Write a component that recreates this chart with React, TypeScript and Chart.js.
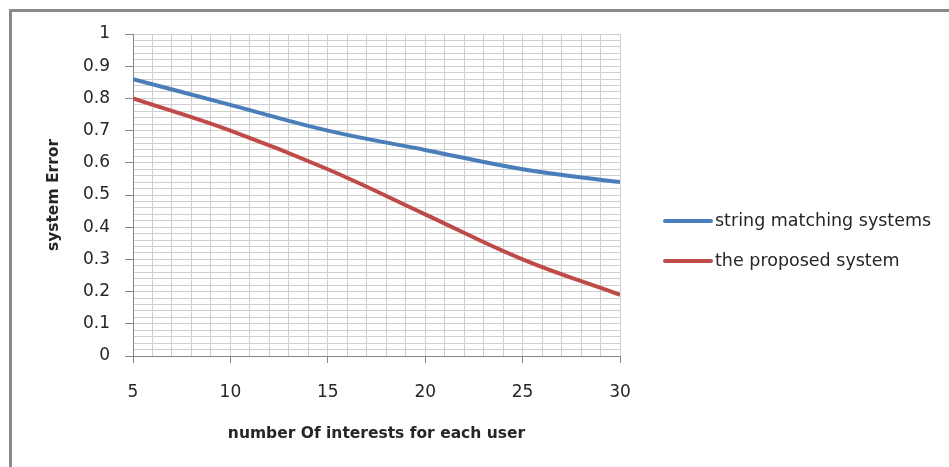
import { useEffect, useRef } from "react";
import { Chart, registerables } from "chart.js";

Chart.register(...registerables);

// Number of interests per user (x positions of the samples)
const interests = [5, 10, 15, 20, 25, 30];
// System error of each approach at those sample points
const stringMatching = [0.86, 0.78, 0.7, 0.64, 0.58, 0.54];
const proposedSystem = [0.8, 0.7, 0.58, 0.44, 0.3, 0.19];

const seriesNames = ["string matching systems", "the proposed system"];
const seriesColors = ["#4A7EBB", "#BE4B48"];

const xAxisTitle = "number Of interests for each user";
const yAxisTitle = "system Error";

const FONT = "'DejaVu Sans', sans-serif";
const TEXT_COLOR = "#262626";
const AXIS_COLOR = "#868686";
const GRID_COLOR = "#cfcfcf";

// Legend drawn to the right of the plot, line sample followed by the label
const sideLegend = {
  id: "sideLegend",
  afterDraw(chart: any) {
    const { ctx, chartArea } = chart;
    const x0 = chartArea.right + 45;
    const lineLen = 46;
    const yStart = chartArea.top + 187;
    const gap = 40;
    ctx.save();
    ctx.font = `17.5px ${FONT}`;
    ctx.textBaseline = "middle";
    ctx.textAlign = "left";
    chart.data.datasets.forEach((ds: any, i: number) => {
      const y = yStart + i * gap;
      ctx.strokeStyle = ds.borderColor;
      ctx.lineWidth = ds.borderWidth;
      ctx.lineCap = "round";
      ctx.beginPath();
      ctx.moveTo(x0, y);
      ctx.lineTo(x0 + lineLen, y);
      ctx.stroke();
      ctx.fillStyle = TEXT_COLOR;
      ctx.fillText(ds.label, x0 + lineLen + 4, y);
    });
    ctx.restore();
  },
};

export default function App() {
  const canvasRef = useRef<HTMLCanvasElement | null>(null);

  useEffect(() => {
    const canvas = canvasRef.current;
    if (!canvas) return;

    const series = [stringMatching, proposedSystem];
    const chart = new Chart(canvas, {
      type: "line",
      data: {
        datasets: series.map((values, i) => ({
          label: seriesNames[i],
          data: interests.map((x, j) => ({ x, y: values[j] })),
          borderColor: seriesColors[i],
          backgroundColor: seriesColors[i],
          borderWidth: 4,
          pointRadius: 0,
          tension: 0.4,
          fill: false,
        })),
      },
      options: {
        responsive: false,
        animation: false,
        layout: { padding: { top: 34, right: 329, left: 0, bottom: 0 } },
        plugins: {
          legend: { display: false },
          tooltip: { enabled: false },
        },
        scales: {
          x: {
            type: "linear",
            min: 5,
            max: 30,
            afterFit: (scale: any) => {
              scale.height = 111;
            },
            ticks: {
              stepSize: 1,
              autoSkip: false,
              maxRotation: 0,
              padding: 19,
              color: TEXT_COLOR,
              font: { family: FONT, size: 17 },
              callback: (v: any) => (Number(v) % 5 === 0 ? String(v) : ""),
            },
            grid: {
              color: GRID_COLOR,
              tickLength: 7,
              tickColor: (ctx: any) =>
                ctx.tick && ctx.tick.value % 5 === 0 ? AXIS_COLOR : "rgba(0,0,0,0)",
            },
            border: { color: AXIS_COLOR, width: 1 },
            title: {
              display: true,
              text: xAxisTitle,
              color: TEXT_COLOR,
              font: { family: FONT, size: 15.5, weight: "bold" },
              padding: { top: 0, bottom: 24 },
            },
          },
          y: {
            type: "linear",
            min: 0,
            max: 1,
            afterFit: (scale: any) => {
              scale.width = 133;
            },
            ticks: {
              stepSize: 0.02,
              autoSkip: false,
              padding: 15,
              color: TEXT_COLOR,
              font: { family: FONT, size: 17 },
              callback: (v: any) => {
                const n = Math.round(Number(v) * 50);
                return n % 5 === 0 ? String(n / 50) : "";
              },
            },
            grid: {
              color: GRID_COLOR,
              tickLength: 8,
              tickColor: (ctx: any) => {
                const n = ctx.tick ? Math.round(ctx.tick.value * 50) : 1;
                return n % 5 === 0 ? AXIS_COLOR : "rgba(0,0,0,0)";
              },
            },
            border: { color: AXIS_COLOR, width: 1 },
            title: {
              display: true,
              text: yAxisTitle,
              color: TEXT_COLOR,
              font: { family: FONT, size: 15.5, weight: "bold" },
              padding: { top: 45, bottom: 0 },
            },
          },
        },
      },
      plugins: [sideLegend],
    });

    return () => chart.destroy();
  }, []);

  return (
    <div
      style={{
        position: "absolute",
        left: 0,
        top: 0,
        width: 949,
        height: 467,
        overflow: "hidden",
        background: "#ffffff",
      }}
    >
      <div
        style={{
          position: "absolute",
          left: 9,
          top: 9,
          width: 1000,
          height: 600,
          border: "3px solid #8a8a8a",
          boxSizing: "border-box",
        }}
      />
      <canvas
        ref={canvasRef}
        width={949}
        height={467}
        style={{ position: "absolute", left: 0, top: 0, display: "block" }}
      />
    </div>
  );
}
